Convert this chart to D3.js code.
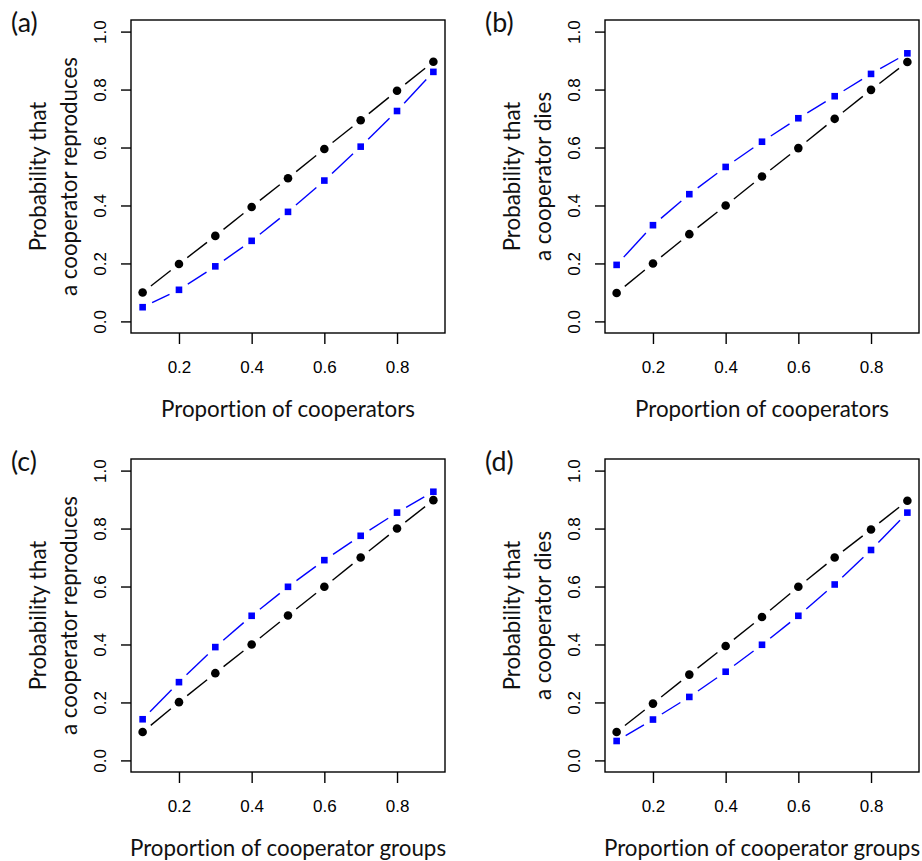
<!DOCTYPE html>
<html><head><meta charset="utf-8">
<script src="https://cdn.jsdelivr.net/npm/d3@7"></script>
<style>body{margin:0;background:#fff}svg{display:block}text{font-variant-ligatures:none;font-feature-settings:"liga" 0,"clig" 0}</style></head>
<body><svg id="c" width="922" height="861"></svg>
<script>
// ---- data ----
const xValues = [0.1, 0.2, 0.3, 0.4, 0.5, 0.6, 0.7, 0.8, 0.9];
const xTicks = [0.2, 0.4, 0.6, 0.8];
const yTicks = [0.0, 0.2, 0.4, 0.6, 0.8, 1.0];
const panelLabels = ["(a)", "(b)", "(c)", "(d)"];
const yTitleLine1 = "Probability that";
const yTitleLine2 = ["a cooperator reproduces", "a cooperator dies", "a cooperator reproduces", "a cooperator dies"];
const xTitles = ["Proportion of cooperators", "Proportion of cooperators", "Proportion of cooperator groups", "Proportion of cooperator groups"];

const blackA = [0.100, 0.198, 0.295, 0.395, 0.494, 0.595, 0.694, 0.796, 0.896];
const blueA  = [0.049, 0.109, 0.190, 0.278, 0.378, 0.486, 0.603, 0.726, 0.861];
const blackB = [0.098, 0.200, 0.301, 0.400, 0.500, 0.598, 0.699, 0.799, 0.895];
const blueB  = [0.195, 0.332, 0.439, 0.533, 0.620, 0.701, 0.777, 0.854, 0.925];
const blackC = [0.098, 0.201, 0.301, 0.400, 0.500, 0.599, 0.700, 0.800, 0.898];
const blueC  = [0.142, 0.270, 0.391, 0.499, 0.599, 0.691, 0.775, 0.855, 0.927];
const blackD = [0.098, 0.196, 0.296, 0.395, 0.495, 0.599, 0.700, 0.797, 0.896];
const blueD  = [0.067, 0.141, 0.219, 0.306, 0.399, 0.499, 0.607, 0.726, 0.855];

const blackSeries = [blackA, blackB, blackC, blackD];
const blueSeries = [blueA, blueB, blueC, blueD];

// ---- layout ----
const svg = d3.select("#c");
const offsets = [[0, 0], [474, 0], [0, 439], [474, 439]];
const box = {l: 131, r: 445, t: 20, b: 333};
const tickFont = "'Liberation Sans', Arial, sans-serif";
const titleFont = "Lato, 'Open Sans', sans-serif";

// fit title font size to reference width
const probe = svg.append("text").attr("font-family", titleFont).attr("font-size", 100).text("Proportion of cooperators");
const titleSize = 100 * 254 / probe.node().getComputedTextLength();
probe.remove();

const x = d3.scaleLinear().domain([0.068, 0.932]).range([box.l, box.r]);
const y = d3.scaleLinear().domain([-0.04, 1.04]).range([box.b, box.t]);
const fmt = d3.format(".1f");
const GAP = 10.5;

function gappedSegments(g, vals, color) {
  const pts = xValues.map((v, i) => [x(v), y(vals[i])]);
  const segs = [];
  for (let i = 0; i < pts.length - 1; i++) {
    const [x1, y1] = pts[i], [x2, y2] = pts[i + 1];
    const d = Math.hypot(x2 - x1, y2 - y1);
    if (d <= 2 * GAP) continue;
    const ux = (x2 - x1) / d, uy = (y2 - y1) / d;
    segs.push([x1 + ux * GAP, y1 + uy * GAP, x2 - ux * GAP, y2 - uy * GAP]);
  }
  g.selectAll(null).data(segs).enter().append("line")
    .attr("x1", s => s[0]).attr("y1", s => s[1]).attr("x2", s => s[2]).attr("y2", s => s[3])
    .attr("stroke", color).attr("stroke-width", 1.4);
}

offsets.forEach(([ox, oy], p) => {
  const g = svg.append("g").attr("transform", `translate(${ox},${oy})`);

  // box
  g.append("rect").attr("x", box.l).attr("y", box.t)
    .attr("width", box.r - box.l).attr("height", box.b - box.t)
    .attr("fill", "none").attr("stroke", "#000").attr("stroke-width", 1.4);

  // y axis
  const ya = g.append("g").attr("transform", `translate(${box.l},0)`)
    .call(d3.axisLeft(y).tickValues(yTicks).tickSize(10).tickSizeOuter(0).tickFormat(fmt));
  ya.select(".domain").remove();
  ya.selectAll(".tick line").attr("stroke", "#000").attr("stroke-width", 1.4);
  ya.selectAll(".tick text")
    .attr("x", 0).attr("y", -31).attr("dy", null)
    .attr("transform", "rotate(-90)")
    .attr("text-anchor", "middle").attr("dominant-baseline", "central")
    .attr("font-family", tickFont).attr("font-size", 17).attr("fill", "#000");

  // x axis
  const xa = g.append("g").attr("transform", `translate(0,${box.b})`)
    .call(d3.axisBottom(x).tickValues(xTicks).tickSize(11).tickSizeOuter(0).tickFormat(fmt));
  xa.select(".domain").remove();
  xa.selectAll(".tick line").attr("stroke", "#000").attr("stroke-width", 1.4);
  xa.selectAll(".tick text")
    .attr("y", 34).attr("dy", null).attr("dominant-baseline", "central")
    .attr("font-family", tickFont).attr("font-size", 17).attr("fill", "#000");

  // titles
  const cx = (box.l + box.r) / 2, cy = (box.t + box.b) / 2;
  g.append("text").attr("x", cx).attr("y", box.b + 75)
    .attr("text-anchor", "middle").attr("dominant-baseline", "central")
    .attr("font-family", titleFont).attr("font-size", titleSize).attr("fill", "#111")
    .text(xTitles[p]);
  g.append("text").attr("transform", `translate(${box.l - 94},${cy}) rotate(-90)`)
    .attr("text-anchor", "middle").attr("dominant-baseline", "central")
    .attr("font-family", titleFont).attr("font-size", titleSize).attr("fill", "#111")
    .text(yTitleLine1);
  g.append("text").attr("transform", `translate(${box.l - 63},${cy}) rotate(-90)`)
    .attr("text-anchor", "middle").attr("dominant-baseline", "central")
    .attr("font-family", titleFont).attr("font-size", titleSize).attr("fill", "#111")
    .text(yTitleLine2[p]);

  // panel label
  g.append("text").attr("x", 11).attr("y", 22)
    .attr("dominant-baseline", "central")
    .attr("font-family", titleFont).attr("font-size", titleSize * 1.2).attr("fill", "#111")
    .text(panelLabels[p]);

  // series lines
  gappedSegments(g, blackSeries[p], "#000");
  gappedSegments(g, blueSeries[p], "#0000ff");

  // markers
  g.selectAll(null).data(blackSeries[p]).enter().append("circle")
    .attr("cx", (d, i) => x(xValues[i])).attr("cy", d => y(d)).attr("r", 4.3).attr("fill", "#000");
  const s = 6.6;
  g.selectAll(null).data(blueSeries[p]).enter().append("rect")
    .attr("x", (d, i) => x(xValues[i]) - s / 2).attr("y", d => y(d) - s / 2)
    .attr("width", s).attr("height", s).attr("fill", "#0000ff");
});
</script>
</body></html>
